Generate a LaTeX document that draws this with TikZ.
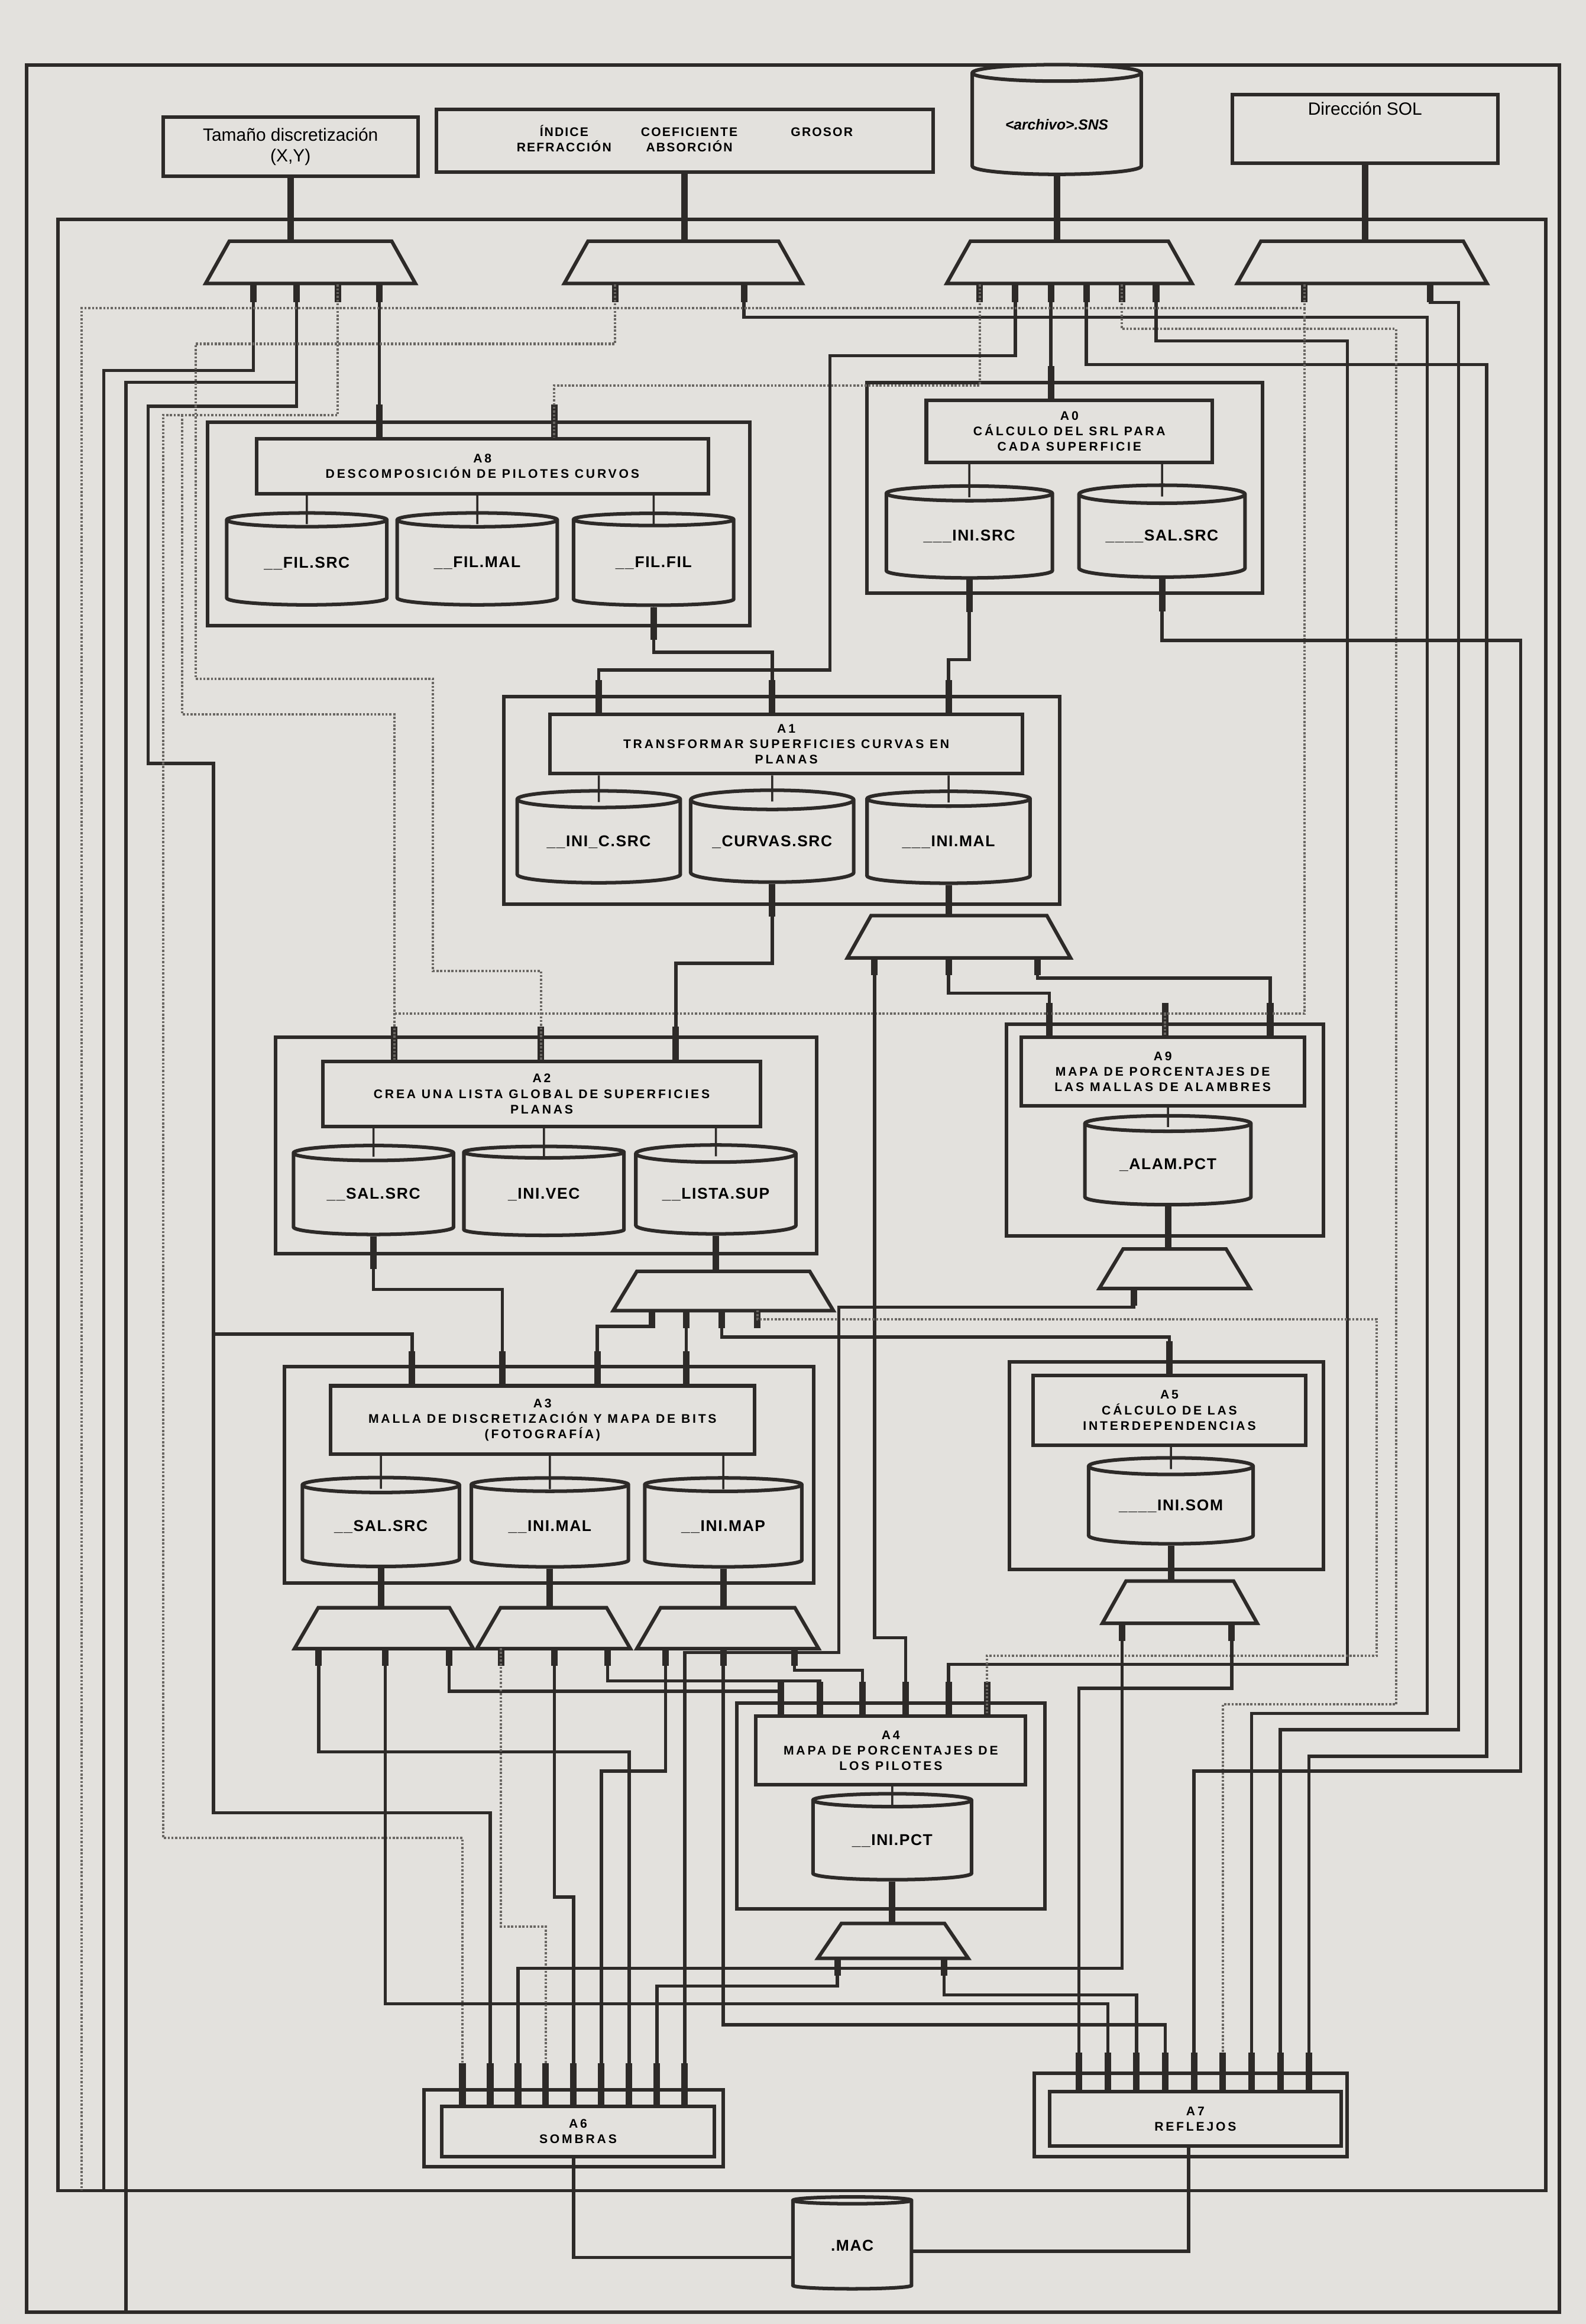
\documentclass[tikz,border=0pt]{standalone}
\usepackage{fontspec}
\setmainfont{Liberation Sans}
\usetikzlibrary{shapes.geometric}
\definecolor{ink}{RGB}{45,42,40}
\definecolor{paper}{RGB}{227,225,221}
\definecolor{dots}{RGB}{105,102,98}
\begin{document}
\begin{tikzpicture}[x=0.25mm,y=-0.25mm,
  proc/.style={draw=ink,line width=0.6mm,fill=paper,inner sep=1pt,align=center,font=\fontsize{6}{7.4}\selectfont\bfseries\addfontfeature{LetterSpace=18}},
  inbox/.style={draw=ink,line width=0.6mm,fill=paper,inner sep=1pt,align=center,font=\fontsize{8.5}{10}\selectfont},
  frame/.style={draw=ink,line width=0.6mm,inner sep=0pt},
  db/.style={cylinder,shape border rotate=90,aspect=0.16,draw=ink,line width=0.6mm,fill=paper,inner sep=0pt,font=\fontsize{7.5}{8}\selectfont\bfseries\addfontfeature{LetterSpace=6}},
  mux/.style={inner sep=0pt,minimum height=7mm},
  muxline/.style={draw=ink,fill=paper,line width=0.6mm},
  wire/.style={draw=ink,line width=0.55mm},
  dwire/.style={draw=dots,line width=0.4mm,dash pattern=on 1pt off 0.8pt},
  pin/.style={draw=ink,line width=1.1mm},
  stem/.style={draw=ink,line width=0.35mm}]
\fill[paper] (0,0) rectangle (1070,1568);
\useasboundingbox (0,0) rectangle (1070,1568);
\draw[frame] (18,44) rectangle (1052,1560);

\node[inbox,minimum width=43mm,minimum height=10mm] (in1) at (196,99) {Tamaño discretización\\(X,Y)};
\node[inbox,minimum width=83.75mm,minimum height=10.5mm,font=\fontsize{6}{7.4}\selectfont\bfseries\addfontfeature{LetterSpace=10}] (in2) at (462,95) {\begin{tabular}{@{}c@{\hspace{5mm}}c@{\hspace{9mm}}c@{}}ÍNDICE&COEFICIENTE&GROSOR\\REFRACCIÓN&ABSORCIÓN&\end{tabular}};
\node[db,minimum width=28.5mm,minimum height=18.5mm,font=\fontsize{7}{8}\selectfont\bfseries\itshape] (sns) at (713,84) {<archivo>.SNS};
\node[inbox,minimum width=44.75mm,minimum height=11.5mm,text height=2.4mm,text depth=7.2mm] (in4) at (921,87) {Dirección SOL};

\node[mux,minimum width=35.25mm] (m1) at (209.5,177) {};
\node[mux,minimum width=40mm] (m2) at (461,177) {};
\node[mux,minimum width=41.25mm] (m3) at (721.5,177) {};
\node[mux,minimum width=42mm] (m4) at (919,177) {};

\node[frame,minimum width=91.5mm,minimum height=34.25mm] (a8) at (323,353.5) {};
\node[proc,minimum width=76.25mm,minimum height=9.25mm] (a8t) at (325.5,314.5) {A8\\DESCOMPOSICIÓN DE PILOTES CURVOS};
\node[db,minimum width=27mm,minimum height=15.5mm] (a8d1) at (207,380) {\_\_FIL.SRC};
\node[db,minimum width=27mm,minimum height=15.5mm] (a8d2) at (322,380) {\_\_FIL.MAL};
\node[db,minimum width=27mm,minimum height=15.5mm] (a8d3) at (441,380) {\_\_FIL.FIL};

\node[frame,minimum width=66.75mm,minimum height=35.5mm] (a0) at (718.5,329) {};
\node[proc,minimum width=48.25mm,minimum height=10.5mm] (a0t) at (721.5,291) {A0\\CÁLCULO DEL SRL PARA\\CADA SUPERFICIE};
\node[db,minimum width=28mm,minimum height=15.5mm] (a0d1) at (654,362) {\_\_\_INI.SRC};
\node[db,minimum width=28mm,minimum height=15.5mm] (a0d2) at (784,362) {\_\_\_\_SAL.SRC};

\node[frame,minimum width=93.75mm,minimum height=35mm] (a1) at (527.5,540) {};
\node[proc,minimum width=79.75mm,minimum height=10mm] (a1t) at (530.5,502) {A1\\TRANSFORMAR SUPERFICIES CURVAS EN\\PLANAS};
\node[db,minimum width=27.5mm,minimum height=15.5mm] (a1d1) at (404,568) {\_\_INI\_C.SRC};
\node[db,minimum width=27.5mm,minimum height=15.5mm] (a1d2) at (521,568) {\_CURVAS.SRC};
\node[db,minimum width=27.5mm,minimum height=15.5mm] (a1d3) at (640,568) {\_\_\_INI.MAL};
\node[mux,minimum width=37.5mm] (ma1) at (647,632) {};

\node[frame,minimum width=91.25mm,minimum height=36.5mm] (a2) at (368.5,773) {};
\node[proc,minimum width=73.75mm,minimum height=11mm] (a2t) at (365.5,738) {A2\\CREA UNA LISTA GLOBAL DE SUPERFICIES\\PLANAS};
\node[db,minimum width=27mm,minimum height=15mm] (a2d1) at (252,806) {\_\_SAL.SRC};
\node[db,minimum width=27mm,minimum height=15mm] (a2d2) at (367,806) {\_INI.VEC};
\node[db,minimum width=27mm,minimum height=15mm] (a2d3) at (483,806) {\_\_LISTA.SUP};
\node[mux,minimum width=37mm,minimum height=6.5mm] (ma2) at (488,871) {};

\node[frame,minimum width=53.5mm,minimum height=35.75mm] (a9) at (786,762.5) {};
\node[proc,minimum width=47.75mm,minimum height=11.5mm] (a9t) at (784.5,723) {A9\\MAPA DE PORCENTAJES DE\\LAS MALLAS DE ALAMBRES};
\node[db,minimum width=28mm,minimum height=15mm] (a9d) at (788,786) {\_ALAM.PCT};
\node[mux,minimum width=25.25mm,minimum height=6.5mm] (ma9) at (792.5,856) {};

\node[frame,minimum width=89.25mm,minimum height=36.5mm] (a3) at (370.5,995) {};
\node[proc,minimum width=71.5mm,minimum height=11.5mm] (a3t) at (366,958) {A3\\MALLA DE DISCRETIZACIÓN Y MAPA DE BITS\\(FOTOGRAFÍA)};
\node[db,minimum width=26.5mm,minimum height=15mm] (a3d1) at (257,1030) {\_\_SAL.SRC};
\node[db,minimum width=26.5mm,minimum height=15mm] (a3d2) at (371,1030) {\_\_INI.MAL};
\node[db,minimum width=26.5mm,minimum height=15mm] (a3d3) at (488,1030) {\_\_INI.MAP};
\node[mux,minimum width=30mm,minimum height=6.75mm] (ma3a) at (259,1098.5) {};
\node[mux,minimum width=25.75mm,minimum height=6.75mm] (ma3b) at (373.5,1098.5) {};
\node[mux,minimum width=30.5mm,minimum height=6.75mm] (ma3c) at (491,1098.5) {};

\node[frame,minimum width=53mm,minimum height=35mm] (a5) at (787,989) {};
\node[proc,minimum width=46mm,minimum height=11.75mm] (a5t) at (789,951.5) {A5\\CÁLCULO DE LAS\\INTERDEPENDENCIAS};
\node[db,minimum width=27.75mm,minimum height=14.5mm] (a5d) at (790,1016) {\_\_\_\_INI.SOM};
\node[mux,minimum width=26mm] (ma5) at (796,1081) {};

\node[frame,minimum width=52mm,minimum height=34.75mm] (a4) at (601,1218.5) {};
\node[proc,minimum width=45.5mm,minimum height=11.5mm] (a4t) at (601,1181) {A4\\MAPA DE PORCENTAJES DE\\LOS PILOTES};
\node[db,minimum width=26.75mm,minimum height=14.5mm] (a4d) at (602,1242) {\_\_INI.PCT};
\node[mux,minimum width=25.25mm,minimum height=5.75mm] (ma4) at (602.5,1309.5) {};

\node[frame,minimum width=50.5mm,minimum height=13mm] (a6) at (387,1436) {};
\node[proc,minimum width=46mm,minimum height=8.5mm] (a6t) at (390,1438) {A6\\SOMBRAS};
\node[frame,minimum width=52.75mm,minimum height=14mm] (a7) at (803.5,1427) {};
\node[proc,minimum width=49.25mm,minimum height=9.25mm] (a7t) at (806.5,1429.5) {A7\\REFLEJOS};
\node[db,minimum width=20mm,minimum height=15.5mm] (mac) at (575,1515) {.MAC};

\foreach \m in {m1,m2,m3,m4,ma1,ma2,ma9,ma3a,ma3b,ma3c,ma5,ma4}
  \filldraw[muxline] (\m.south west) -- ([xshift=4mm]\m.north west) -- ([xshift=-4mm]\m.north east) -- (\m.south east) -- cycle;

\foreach \n/\x in {m1p1/171,m1p2/200,m1p3/228,m1p4/256,m2p1/415,m2p2/502,m3p1/661,m3p2/685,m3p3/709,m3p4/733,m3p5/757,m3p6/780,m4p1/880,m4p2/965}
  \coordinate (\n) at (\x,192);
\foreach \n/\x in {ma1p1/590,ma1p2/640,ma1p3/700} \coordinate (\n) at (\x,646);
\foreach \n/\x in {ma2p1/440,ma2p2/463,ma2p3/487,ma2p4/511} \coordinate (\n) at (\x,884);
\coordinate (ma9p1) at (765,869);
\foreach \n/\x in {ma3ap1/215,ma3ap2/260,ma3ap3/303,ma3bp1/338,ma3bp2/374,ma3bp3/410,ma3cp1/449,ma3cp2/488,ma3cp3/536} \coordinate (\n) at (\x,1112);
\foreach \n/\x in {ma5p1/757,ma5p2/831} \coordinate (\n) at (\x,1095);
\foreach \n/\x in {ma4p1/565,ma4p2/637} \coordinate (\n) at (\x,1321);
\foreach \p in {m1p1,m1p2,m1p3,m1p4,m2p1,m2p2,m3p1,m3p2,m3p3,m3p4,m3p5,m3p6,m4p1,m4p2,ma1p1,ma1p2,ma1p3,ma2p1,ma2p2,ma2p3,ma2p4,ma9p1,ma3ap1,ma3ap2,ma3ap3,ma3bp1,ma3bp2,ma3bp3,ma3cp1,ma3cp2,ma3cp3,ma5p1,ma5p2,ma4p1,ma4p2}
  \draw[pin] (\p) -- ++(0,12);

\coordinate (a8i1) at (a8t.north -| 256,0);
\coordinate (a8i2) at (a8t.north -| 374,0);
\coordinate (a0i) at (a0t.north -| 709,0);
\coordinate (a1i1) at (a1t.north -| 404,0);
\coordinate (a1i2) at (a1t.north -| 521,0);
\coordinate (a1i3) at (a1t.north -| 640,0);
\coordinate (a2i1) at (a2t.north -| 266,0);
\coordinate (a2i2) at (a2t.north -| 365,0);
\coordinate (a2i3) at (a2t.north -| 456,0);
\coordinate (a9i1) at (a9t.north -| 708,0);
\coordinate (a9i2) at (a9t.north -| 786,0);
\coordinate (a9i3) at (a9t.north -| 857,0);
\coordinate (a3i1) at (a3t.north -| 278,0);
\coordinate (a3i2) at (a3t.north -| 339,0);
\coordinate (a3i3) at (a3t.north -| 403,0);
\coordinate (a3i4) at (a3t.north -| 463,0);
\coordinate (a5i) at (a5t.north -| 789,0);
\foreach \i/\x in {1/527,2/553,3/582,4/611,5/640,6/666} \coordinate (a4i\i) at (a4t.north -| \x,0);
\foreach \i in {1,...,9} {
  \coordinate (a6p\i) at ({293.25+18.75*\i},1392);
  \coordinate (a7p\i) at ({708.6+19.4*\i},1385);
  \draw[pin] (a6p\i) -- (a6p\i |- a6t.north);
  \draw[pin] (a7p\i) -- (a7p\i |- a7t.north);
}
\foreach \p in {a8i1,a8i2,a0i,a1i1,a1i2,a1i3,a2i1,a2i2,a2i3,a9i1,a9i2,a9i3,a3i1,a3i2,a3i3,a3i4,a5i,a4i1,a4i2,a4i3,a4i4,a4i5,a4i6}
  \draw[pin] (\p) -- ++(0,-22);

\draw[pin] (in1.south) -- (in1.south |- m1.north);
\draw[pin] (in2.south) -- (in2.south |- m2.north);
\draw[pin] (sns.south) -- (sns.south |- m3.north);
\draw[pin] (in4.south) -- (in4.south |- m4.north);
\foreach \t/\d in {a8t/a8d1,a8t/a8d2,a8t/a8d3,a0t/a0d1,a0t/a0d2,a1t/a1d1,a1t/a1d2,a1t/a1d3,a2t/a2d1,a2t/a2d2,a2t/a2d3,a9t/a9d,a3t/a3d1,a3t/a3d2,a3t/a3d3,a5t/a5d,a4t/a4d}
  \draw[stem] (\t.south -| \d) -- ([yshift=-2.2mm]\d.north);
\foreach \d in {a8d3,a0d1,a0d2,a1d2,a2d1}
  \draw[pin] (\d.south) -- ++(0,22);
\foreach \d/\m in {a1d3/ma1,a2d3/ma2,a9d/ma9,a3d1/ma3a,a3d2/ma3b,a3d3/ma3c,a5d/ma5,a4d/ma4}
  \draw[pin] (\d.south) -- (\d.south |- \m.north);

\draw[wire] (39,148) rectangle (1043,1478);
\draw[wire] (m1p1) |- (70,250) -- (70,1478);
\draw[wire] (m1p2) |- (100,274) |- (144,515) -- (144,1223) -| (a6p2);
\draw[wire] (144,900) -| (a3i1);
\draw[wire] (200,258) -| (85,1560);
\draw[dwire] (m1p3) |- (110,280) -- (110,1240) -| (a6p1);
\draw[dwire] (123,280) |- (266,482) -- (a2i1);
\draw[wire] (m1p4) -- (a8i1);
\draw[dwire] (m2p1) |- (132,232) |- (292,458) |- (365,655) -- (a2i2);
\draw[wire] (m2p2) |- (963,214) -- (963,1156) -| (a7p7);
\draw[dwire] (m3p1) |- (374,260) -- (a8i2);
\draw[wire] (m3p2) |- (560,240) |- (404,452) -- (a1i1);
\draw[wire] (m3p3) -- (a0i);
\draw[wire] (m3p4) |- (1003,246) -- (1003,1185) -| (a7p9);
\draw[dwire] (m3p5) |- (942,222) -- (942,1150) -| (a7p6);
\draw[wire] (m3p6) |- (909,230) -- (909,1123) -| (a4i5);
\draw[dwire] (m4p1) |- (55,208) -- (55,1478);
\draw[dwire] (880,208) |- (266,684);
\draw[dwire] (786,684) -- (a9i2);
\draw[wire] (m4p2) |- (984,204) -- (984,1167) -| (a7p8);
\draw[wire] (a8d3.south) |- (521,440) -- (a1i2);
\draw[wire] (a0d1.south) |- (640,445) -- (a1i3);
\draw[wire] (a0d2.south) |- (1026,432) -- (1026,1195) -| (a7p5);
\draw[wire] (a1d2.south) |- (456,650) -- (a2i3);
\draw[wire] (ma1p1) |- (611,1105) -- (a4i4);
\draw[wire] (ma1p2) |- (708,670) -- (a9i1);
\draw[wire] (ma1p3) |- (857,660) -- (a9i3);
\draw[wire] (a2d1.south) |- (339,870) -- (a3i2);
\draw[wire] (ma2p1) |- (403,895) -- (a3i3);
\draw[wire] (ma2p2) -- (a3i4);
\draw[wire] (ma2p3) |- (789,902) -- (a5i);
\draw[dwire] (ma2p4) |- (929,890) -- (929,1117) -| (a4i6);
\draw[wire] (ma9p1) |- (566,882) -- (566,1115) -| (a6p9);
\draw[wire] (ma3ap3) |- (527,1141) -- (a4i1);
\draw[wire] (ma3bp3) |- (553,1134) -- (a4i2);
\draw[wire] (ma3cp3) |- (582,1127) -- (a4i3);
\draw[wire] (ma3ap1) -- (215,1182) -| (a6p7);
\draw[wire] (ma3ap2) -- (260,1352) -| (a7p2);
\draw[dwire] (ma3bp1) -- (338,1300) -| (a6p4);
\draw[wire] (ma3bp2) -- (374,1280) -| (a6p5);
\draw[wire] (ma3cp1) -- (449,1195) -| (a6p6);
\draw[wire] (ma3cp2) -- (488,1366) -| (a7p4);
\draw[wire] (ma5p1) -- (757,1328) -| (a6p3);
\draw[wire] (ma5p2) -- (831,1139) -| (a7p1);
\draw[wire] (ma4p1) -- (565,1340) -| (a6p8);
\draw[wire] (ma4p2) -- (637,1346) -| (a7p3);
\draw[wire] (a6t.south -| 387,0) |- ([yshift=-2mm]mac.west);
\draw[wire] (a7t.south -| 802,0) |- ([yshift=-1mm]mac.east);
\end{tikzpicture}
\end{document}
